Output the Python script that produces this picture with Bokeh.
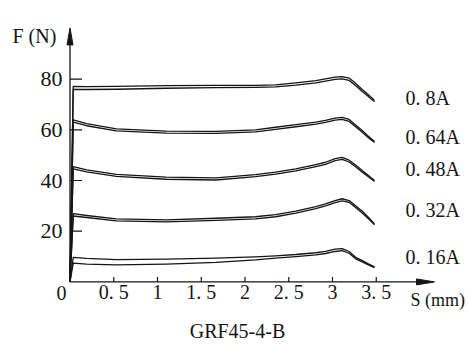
from bokeh.plotting import figure
from bokeh.models import Range1d
from bokeh.embed import file_html
from bokeh.resources import INLINE
from bokeh.core.properties import value

# ---------------- data ----------------
currents = ["0. 8A", "0. 64A", "0. 48A", "0. 32A", "0. 16A"]
s_mm = [0, 0.037, 0.19, 0.53, 1.10, 1.67, 2.12, 2.35, 2.58, 2.81, 2.92, 3.03, 3.11, 3.19, 3.26, 3.34, 3.41, 3.48]

f_08_up = [0, 77.1, 77.0, 77.1, 77.4, 77.5, 77.5, 77.7, 78.5, 79.4, 80.1, 80.8, 81.0, 80.4, 78.5, 75.9, 73.8, 71.6]
f_08_lo = [0, 75.9, 75.9, 76.0, 76.4, 76.6, 76.7, 76.9, 77.6, 78.5, 79.2, 79.9, 80.1, 79.5, 77.6, 75.1, 73.1, 71.1]
f_064_up = [0, 63.9, 62.4, 60.4, 59.5, 59.4, 60.0, 61.0, 62.0, 63.0, 63.7, 64.6, 64.9, 64.1, 62.0, 59.7, 57.5, 55.4]
f_064_lo = [0, 63.0, 61.6, 59.6, 58.7, 58.6, 59.2, 60.2, 61.2, 62.2, 62.9, 63.8, 64.1, 63.3, 61.3, 59.0, 56.9, 55.0]
f_048_up = [0, 45.5, 44.2, 42.4, 41.3, 41.0, 42.3, 43.3, 44.6, 46.3, 47.2, 48.6, 49.1, 48.0, 46.2, 43.9, 42.0, 40.0]
f_048_lo = [0, 44.6, 43.4, 41.6, 40.5, 40.2, 41.5, 42.5, 43.8, 45.5, 46.4, 47.8, 48.3, 47.3, 45.5, 43.3, 41.5, 39.6]
f_032_up = [0, 26.9, 26.2, 24.9, 24.5, 25.1, 25.7, 26.5, 27.9, 29.7, 30.8, 32.1, 32.8, 32.1, 30.1, 27.9, 25.5, 22.9]
f_032_lo = [0, 26.0, 25.4, 24.1, 23.7, 24.3, 24.9, 25.7, 27.1, 28.9, 30.0, 31.3, 32.0, 31.4, 29.4, 27.2, 24.9, 22.5]
f_016_up = [0, 9.7, 9.3, 8.8, 9.0, 9.4, 9.9, 10.3, 10.8, 11.5, 12.0, 12.9, 13.1, 12.0, 9.8, 8.4, 7.1, 5.9]
f_016_lo = [0, 7.4, 7.0, 6.7, 7.0, 7.7, 8.7, 9.4, 10.0, 10.7, 11.2, 12.0, 12.3, 11.3, 9.2, 7.9, 6.7, 5.6]

x_ticks = [0.5, 1, 1.5, 2, 2.5, 3, 3.5]
x_tick_labels = ["0. 5", "1", "1. 5", "2", "2. 5", "3", "3. 5"]
y_ticks = [20, 40, 60, 80]
y_tick_labels = ["20", "40", "60", "80"]
label_f = [72.5, 57.0, 44.5, 28.2, 9.8]   # vertical placement of current labels

# ---------------- figure ----------------
PX_X = 87.5   # pixels per mm
PX_Y = 2.535  # pixels per N
X_END = 4.166
Y_END = 100.2
FONT = value("Liberation Serif")
INK = "#151515"

p = figure(width=469, height=347, output_backend="svg", toolbar_location=None,
           x_range=Range1d(-69.5 / PX_X, (469 - 69.5) / PX_X),
           y_range=Range1d(-(347 - 281.4) / PX_Y, 281.4 / PX_Y),
           x_axis_location=None, y_axis_location=None, min_border=0)
p.outline_line_color = None
p.grid.grid_line_color = None
p.background_fill_color = "white"
p.border_fill_color = "white"

# axes
p.segment(x0=[0, 0], y0=[0, 0], x1=[X_END - 0.05, 0], y1=[0, Y_END - 2],
          line_color=INK, line_width=1.3)
hw_y = 3.0 / PX_X
hl_y = 17.0 / PX_Y
p.patch([0, -hw_y, hw_y], [Y_END, Y_END - hl_y, Y_END - hl_y], color=INK)
hw_x = 3.0 / PX_Y
hl_x = 18.0 / PX_X
p.patch([X_END, X_END - hl_x, X_END - hl_x], [0, hw_x, -hw_x], color=INK)

# ticks (inside)
p.segment(x0=[0] * len(y_ticks), y0=y_ticks, x1=[12.0 / PX_X] * len(y_ticks), y1=y_ticks,
          line_color=INK, line_width=1.2)
p.segment(x0=x_ticks, y0=[0] * len(x_ticks), x1=x_ticks, y1=[5.0 / PX_Y] * len(x_ticks),
          line_color=INK, line_width=1.2)

# curves
pairs = [(f_08_up, f_08_lo), (f_064_up, f_064_lo), (f_048_up, f_048_lo),
         (f_032_up, f_032_lo), (f_016_up, f_016_lo)]
for up, lo in pairs:
    p.line(s_mm, up, line_color=INK, line_width=1.3, line_join="round")
    p.line(s_mm, lo, line_color=INK, line_width=1.3, line_join="round")

# tick labels
p.text(x=[-7.5 / PX_X] * len(y_ticks), y=y_ticks, text=y_tick_labels,
       text_align="right", text_baseline="middle", text_font=FONT,
       text_font_size="22px", text_color=INK)
p.text(x=x_ticks, y=[-4.0] * len(x_ticks), text=x_tick_labels,
       text_align="center", text_baseline="middle", text_font=FONT,
       text_font_size="20px", text_color=INK)
p.text(x=[-8.5 / PX_X], y=[-4.4], text=["0"], text_align="center",
       text_baseline="middle", text_font=FONT, text_font_size="20px", text_color=INK)

# axis titles
p.text(x=[-57.5 / PX_X], y=[97.0], text=["F (N)"], text_align="left",
       text_baseline="middle", text_font=FONT, text_font_size="20px", text_color=INK)
p.text(x=[340.5 / PX_X], y=[-7.3], text=["S (mm)"], text_align="left",
       text_baseline="middle", text_font=FONT, text_font_size="18px", text_color=INK)
p.text(x=[167.5 / PX_X], y=[-19.2], text=["GRF45-4-B"], text_align="center",
       text_baseline="middle", text_font=FONT, text_font_size="20px", text_color=INK)

# current labels
p.text(x=[335.5 / PX_X] * len(currents), y=label_f, text=currents,
       text_align="left", text_baseline="middle", text_font=FONT,
       text_font_size="20px", text_color=INK)

open("out.html", "w").write(file_html(p, INLINE))
